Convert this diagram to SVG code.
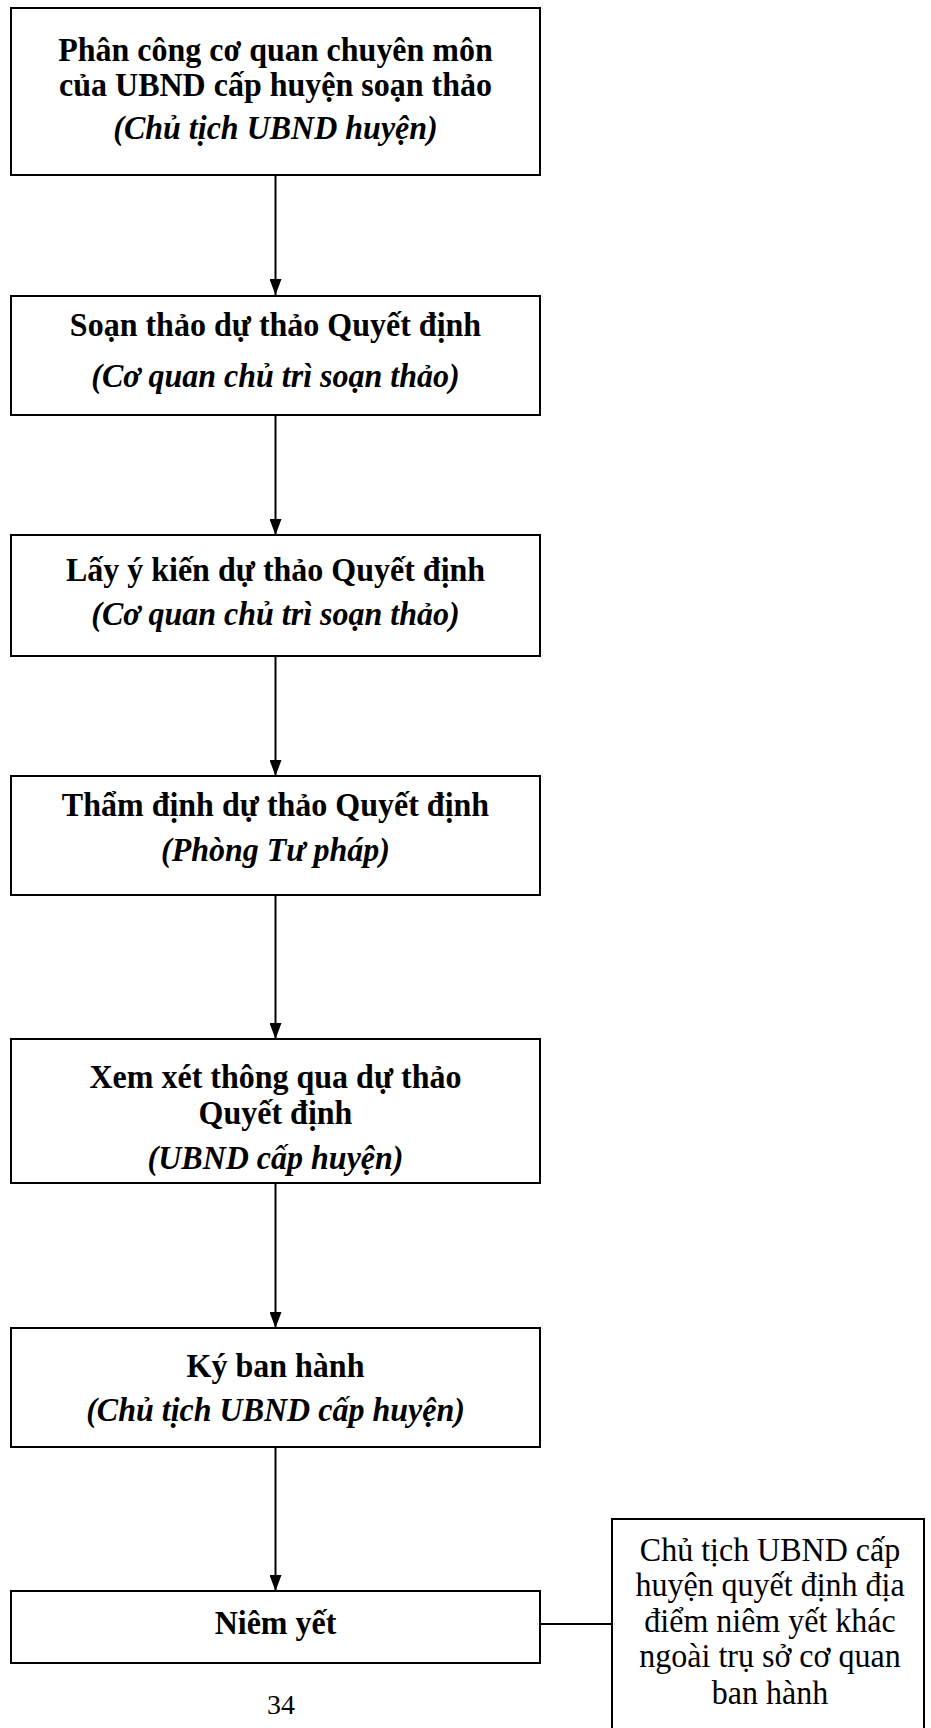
<svg xmlns="http://www.w3.org/2000/svg" width="931" height="1728" viewBox="0 0 931 1728">
  <style>
    .box { fill: #fff; stroke: #000; stroke-width: 2; }
    .link { stroke: #000; stroke-width: 2; fill: none; }
    .t { font-family: "Liberation Serif", "Times New Roman", serif; font-size: 32px; text-anchor: middle; fill: #000; }
    .b { font-weight: bold; }
    .bi { font-weight: bold; font-style: italic; }
    .n { font-weight: normal; }
  </style>
  <defs>
    <marker id="arrowDown" viewBox="0 0 12 16" refX="6" refY="16" markerWidth="12" markerHeight="16" markerUnits="userSpaceOnUse" orient="0">
      <path d="M0,0 L12,0 L6,16 Z" fill="#000"/>
    </marker>
  </defs>
  <rect width="931" height="1728" fill="#fff"/>

  <g id="connectors">
    <line class="link" x1="275.5" y1="175" x2="275.5" y2="295" marker-end="url(#arrowDown)"/>
    <line class="link" x1="275.5" y1="415" x2="275.5" y2="535" marker-end="url(#arrowDown)"/>
    <line class="link" x1="275.5" y1="656" x2="275.5" y2="776" marker-end="url(#arrowDown)"/>
    <line class="link" x1="275.5" y1="895" x2="275.5" y2="1039" marker-end="url(#arrowDown)"/>
    <line class="link" x1="275.5" y1="1183" x2="275.5" y2="1328" marker-end="url(#arrowDown)"/>
    <line class="link" x1="275.5" y1="1447" x2="275.5" y2="1591" marker-end="url(#arrowDown)"/>
    <line class="link" x1="540" y1="1624" x2="612" y2="1624"/>
  </g>

  <g id="node-phan-cong">
    <rect class="box" x="11" y="8" width="529" height="167"/>
    <text class="t b" transform="translate(275.5,61) scale(1,1.06)">Phân công cơ quan chuyên môn</text>
    <text class="t b" transform="translate(275.5,96) scale(1,1.06)">của UBND cấp huyện soạn thảo</text>
    <text class="t bi" transform="translate(275.5,139) scale(1,1.06)">(Chủ tịch UBND huyện)</text>
  </g>

  <g id="node-soan-thao">
    <rect class="box" x="11" y="296" width="529" height="119"/>
    <text class="t b" transform="translate(275.5,336) scale(1,1.06)">Soạn thảo dự thảo Quyết định</text>
    <text class="t bi" transform="translate(275.5,387) scale(1,1.06)">(Cơ quan chủ trì soạn thảo)</text>
  </g>

  <g id="node-lay-y-kien">
    <rect class="box" x="11" y="535" width="529" height="121"/>
    <text class="t b" transform="translate(275.5,581) scale(1,1.06)">Lấy ý kiến dự thảo Quyết định</text>
    <text class="t bi" transform="translate(275.5,625) scale(1,1.06)">(Cơ quan chủ trì soạn thảo)</text>
  </g>

  <g id="node-tham-dinh">
    <rect class="box" x="11" y="776" width="529" height="119"/>
    <text class="t b" transform="translate(275.5,816) scale(1,1.06)">Thẩm định dự thảo Quyết định</text>
    <text class="t bi" transform="translate(275.5,861) scale(1,1.06)">(Phòng Tư pháp)</text>
  </g>

  <g id="node-xem-xet">
    <rect class="box" x="11" y="1039" width="529" height="144"/>
    <text class="t b" transform="translate(275.5,1088) scale(1,1.06)">Xem xét thông qua dự thảo</text>
    <text class="t b" transform="translate(275.5,1124) scale(1,1.06)">Quyết định</text>
    <text class="t bi" transform="translate(275.5,1169) scale(1,1.06)">(UBND cấp huyện)</text>
  </g>

  <g id="node-ky-ban-hanh">
    <rect class="box" x="11" y="1328" width="529" height="119"/>
    <text class="t b" transform="translate(275.5,1377) scale(1,1.06)">Ký ban hành</text>
    <text class="t bi" transform="translate(275.5,1421) scale(1,1.06)">(Chủ tịch UBND cấp huyện)</text>
  </g>

  <g id="node-niem-yet">
    <rect class="box" x="11" y="1591" width="529" height="72"/>
    <text class="t b" transform="translate(275.5,1634) scale(1,1.06)">Niêm yết</text>
  </g>

  <g id="node-dia-diem">
    <rect class="box" x="612" y="1519" width="312" height="230"/>
    <text class="t n" transform="translate(770,1561) scale(1,1.08)">Chủ tịch UBND cấp</text>
    <text class="t n" transform="translate(770,1596) scale(1,1.08)">huyện quyết định địa</text>
    <text class="t n" transform="translate(770,1632) scale(1,1.08)">điểm niêm yết khác</text>
    <text class="t n" transform="translate(770,1667) scale(1,1.08)">ngoài trụ sở cơ quan</text>
    <text class="t n" transform="translate(770,1704) scale(1,1.08)">ban hành</text>
  </g>

  <text id="page-number" class="t n" style="font-size:28px" transform="translate(281,1714)">34</text>
</svg>
